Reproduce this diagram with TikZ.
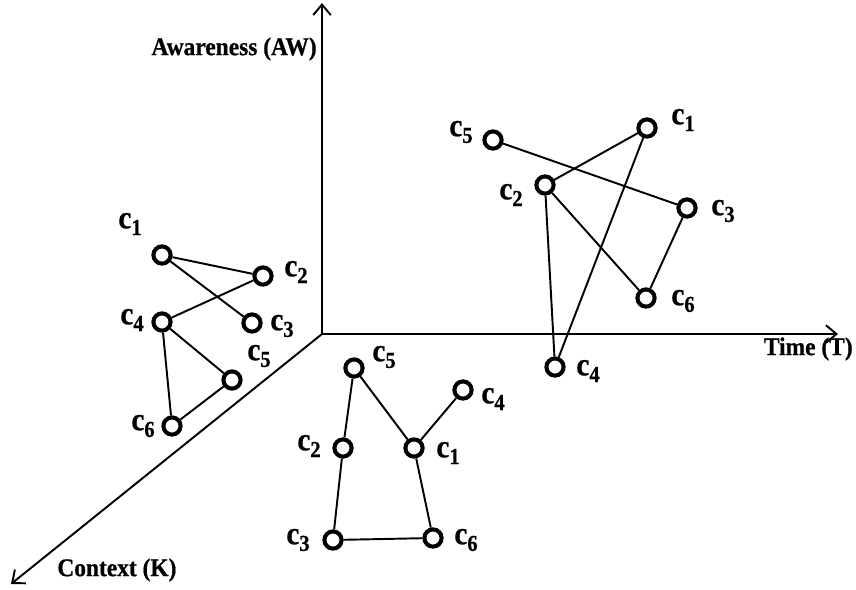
\documentclass[tikz,border=0pt]{standalone}
\usepackage{fontspec}
\setmainfont{Liberation Serif}
\newfontfamily\heavyfont{Liberation Serif}[UprightFeatures={FakeBold=0.7},BoldFeatures={FakeBold=0.7}]
\usetikzlibrary{arrows.meta}

\newcommand{\cc}[1]{\scalebox{0.9}[1]{c\raisebox{-0.45ex}{\fontsize{13}{13}\selectfont #1}}}
\newcommand{\axtext}[1]{\scalebox{0.92}[1]{#1}}

\begin{document}
\begin{tikzpicture}[x=0.02cm,y=-0.02cm,
    axis/.style={line width=1.1pt,-{Straight Barb[length=6pt,width=10pt,line width=1.1pt]}},
    cnode/.style={circle,draw,line width=2.3pt,minimum size=9.8pt,inner sep=0pt},
    link/.style={line width=1.1pt},
    clabel/.style={font=\heavyfont\fontsize{18.5}{18.5}\selectfont\bfseries,inner sep=0pt},
    axlabel/.style={font=\heavyfont\fontsize{14.5}{14.5}\selectfont\bfseries,inner sep=0pt}]
    \useasboundingbox (0,0) rectangle (856,589);

    % axes
    \coordinate (O) at (322,334);
    \coordinate (AWend) at (322,3);
    \coordinate (Tend) at (838,334);
    \coordinate (Kend) at (11,584);
    \draw[axis] (O) -- (AWend);
    \draw[axis] (O) -- (Tend);
    \draw[axis] (O) -- (Kend);
    \node[axlabel,anchor=east] (aw) at (317,49) {\axtext{Awareness (AW)}};
    \node[axlabel,anchor=east] (tt) at (853,349) {\axtext{Time (T)}};
    \node[axlabel,anchor=west] (kk) at (57,570) {\axtext{Context (K)}};

    % left group
    \node[cnode] (l1) at (162,255) {};
    \node[cnode] (l2) at (263,276) {};
    \node[cnode] (l3) at (252,323) {};
    \node[cnode] (l4) at (162,322) {};
    \node[cnode] (l5) at (232,380) {};
    \node[cnode] (l6) at (172,426) {};
    \node[clabel] (l1t) at (130,224) {\cc{1}};
    \node[clabel] (l2t) at (296,272) {\cc{2}};
    \node[clabel] (l3t) at (282,326) {\cc{3}};
    \node[clabel] (l4t) at (132,320) {\cc{4}};
    \node[clabel] (l5t) at (259,356) {\cc{5}};
    \node[clabel] (l6t) at (143,426) {\cc{6}};
    \draw[link] (l1) -- (l2);
    \draw[link] (l1) -- (l3);
    \draw[link] (l4) -- (l2);
    \draw[link] (l4) -- (l5);
    \draw[link] (l4) -- (l6);
    \draw[link] (l6) -- (l5);

    % upper right group
    \node[cnode] (r1) at (647,128) {};
    \node[cnode] (r2) at (545,185) {};
    \node[cnode] (r3) at (687,208) {};
    \node[cnode] (r4) at (555,367) {};
    \node[cnode] (r5) at (493,140) {};
    \node[cnode] (r6) at (646,298) {};
    \node[clabel] (r1t) at (683,120) {\cc{1}};
    \node[clabel] (r2t) at (511,195) {\cc{2}};
    \node[clabel] (r3t) at (723,211) {\cc{3}};
    \node[clabel] (r4t) at (588,371) {\cc{4}};
    \node[clabel] (r5t) at (461,132) {\cc{5}};
    \node[clabel] (r6t) at (683,301) {\cc{6}};
    \draw[link] (r5) -- (r3);
    \draw[link] (r1) -- (r2);
    \draw[link] (r1) -- (r4);
    \draw[link] (r2) -- (r4);
    \draw[link] (r2) -- (r6);
    \draw[link] (r3) -- (r6);

    % lower group
    \node[cnode] (b1) at (414,448) {};
    \node[cnode] (b2) at (343,448) {};
    \node[cnode] (b3) at (333,540) {};
    \node[cnode] (b4) at (463,390) {};
    \node[cnode] (b5) at (354,368) {};
    \node[cnode] (b6) at (433,538) {};
    \node[clabel] (b1t) at (448,453) {\cc{1}};
    \node[clabel] (b2t) at (309,446) {\cc{2}};
    \node[clabel] (b3t) at (298,540) {\cc{3}};
    \node[clabel] (b4t) at (493,399) {\cc{4}};
    \node[clabel] (b5t) at (384,357) {\cc{5}};
    \node[clabel] (b6t) at (466,540) {\cc{6}};
    \draw[link] (b5) -- (b2);
    \draw[link] (b5) -- (b1);
    \draw[link] (b1) -- (b4);
    \draw[link] (b1) -- (b6);
    \draw[link] (b2) -- (b3);
    \draw[link] (b3) -- (b6);
\end{tikzpicture}
\end{document}
